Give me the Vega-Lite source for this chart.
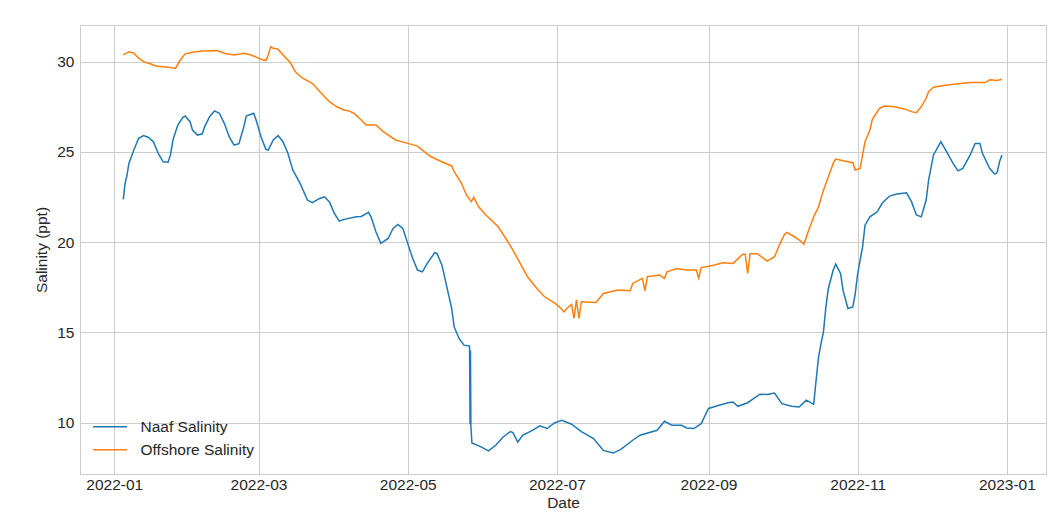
{
  "$schema": "https://vega.github.io/schema/vega-lite/v6.json",
  "width": 966,
  "height": 449,
  "autosize": {"type": "none"},
  "padding": {"left": 80, "top": 25, "right": 9, "bottom": 55},
  "background": "white",
  "config": {
    "view": {"stroke": "#cccccc", "strokeWidth": 1},
    "font": "Liberation Sans",
    "axis": {
      "gridColor": "#cccccc",
      "gridWidth": 1,
      "domain": false,
      "ticks": false,
      "labelColor": "#262626",
      "titleColor": "#262626",
      "labelFontSize": 15.5,
      "titleFontSize": 15.5,
      "titleFontWeight": "normal",
      "labelFont": "Liberation Sans",
      "titleFont": "Liberation Sans"
    },
    "legend": {
      "labelFont": "Liberation Sans",
      "labelFontSize": 15.5,
      "labelColor": "#262626",
      "symbolType": "M-3,0H3",
      "symbolStrokeWidth": 1.5,
      "symbolSize": 128,
      "labelOffset": 22.7,
      "rowPadding": 6,
      "padding": 0
    }
  },
  "datasets": {
    "naaf": [
      {"d": "2022-01-04T17:00:00Z", "v": 22.37},
      {"d": "2022-01-05T10:00:00Z", "v": 23.25},
      {"d": "2022-01-06T02:00:00Z", "v": 23.62},
      {"d": "2022-01-07", "v": 24.36},
      {"d": "2022-01-09", "v": 25.1},
      {"d": "2022-01-11", "v": 25.75},
      {"d": "2022-01-13", "v": 25.9},
      {"d": "2022-01-15", "v": 25.8},
      {"d": "2022-01-17", "v": 25.56},
      {"d": "2022-01-19", "v": 24.92},
      {"d": "2022-01-21", "v": 24.45},
      {"d": "2022-01-23", "v": 24.43},
      {"d": "2022-01-24", "v": 24.83},
      {"d": "2022-01-25", "v": 25.66},
      {"d": "2022-01-27", "v": 26.49},
      {"d": "2022-01-29", "v": 26.9},
      {"d": "2022-01-30", "v": 26.99},
      {"d": "2022-02-01", "v": 26.67},
      {"d": "2022-02-02", "v": 26.21},
      {"d": "2022-02-04", "v": 25.93},
      {"d": "2022-02-06", "v": 26.0},
      {"d": "2022-02-07", "v": 26.4},
      {"d": "2022-02-09", "v": 26.95},
      {"d": "2022-02-11", "v": 27.27},
      {"d": "2022-02-13", "v": 27.14},
      {"d": "2022-02-15", "v": 26.58},
      {"d": "2022-02-17", "v": 25.84},
      {"d": "2022-02-19", "v": 25.38},
      {"d": "2022-02-21", "v": 25.45},
      {"d": "2022-02-23", "v": 26.4},
      {"d": "2022-02-24", "v": 26.99},
      {"d": "2022-02-27", "v": 27.14},
      {"d": "2022-02-28", "v": 26.77},
      {"d": "2022-03-02", "v": 25.84},
      {"d": "2022-03-04", "v": 25.14},
      {"d": "2022-03-05", "v": 25.1},
      {"d": "2022-03-07", "v": 25.66},
      {"d": "2022-03-09", "v": 25.9},
      {"d": "2022-03-11", "v": 25.56},
      {"d": "2022-03-13", "v": 24.92},
      {"d": "2022-03-15", "v": 24.0},
      {"d": "2022-03-18", "v": 23.25},
      {"d": "2022-03-21", "v": 22.33},
      {"d": "2022-03-23", "v": 22.18},
      {"d": "2022-03-26", "v": 22.42},
      {"d": "2022-03-28", "v": 22.51},
      {"d": "2022-03-30", "v": 22.22},
      {"d": "2022-04-01", "v": 21.59},
      {"d": "2022-04-03", "v": 21.16},
      {"d": "2022-04-05", "v": 21.26},
      {"d": "2022-04-10", "v": 21.4},
      {"d": "2022-04-12", "v": 21.42},
      {"d": "2022-04-15", "v": 21.65},
      {"d": "2022-04-16", "v": 21.4},
      {"d": "2022-04-18", "v": 20.57},
      {"d": "2022-04-20", "v": 19.93},
      {"d": "2022-04-23", "v": 20.2},
      {"d": "2022-04-25", "v": 20.76},
      {"d": "2022-04-27", "v": 20.98},
      {"d": "2022-04-29", "v": 20.76},
      {"d": "2022-05-01", "v": 19.93},
      {"d": "2022-05-03", "v": 19.1},
      {"d": "2022-05-05", "v": 18.45},
      {"d": "2022-05-07", "v": 18.35},
      {"d": "2022-05-09", "v": 18.82},
      {"d": "2022-05-12", "v": 19.41},
      {"d": "2022-05-13", "v": 19.37},
      {"d": "2022-05-15", "v": 18.72},
      {"d": "2022-05-17", "v": 17.52},
      {"d": "2022-05-19", "v": 16.32},
      {"d": "2022-05-20", "v": 15.3},
      {"d": "2022-05-22", "v": 14.66},
      {"d": "2022-05-24", "v": 14.29},
      {"d": "2022-05-26T07:00:00Z", "v": 14.24},
      {"d": "2022-05-26T12:00:00Z", "v": 9.9},
      {"d": "2022-05-26T16:00:00Z", "v": 14.0},
      {"d": "2022-05-26T20:00:00Z", "v": 9.8},
      {"d": "2022-05-27T06:00:00Z", "v": 8.87},
      {"d": "2022-05-31", "v": 8.65},
      {"d": "2022-06-03", "v": 8.43},
      {"d": "2022-06-06", "v": 8.74},
      {"d": "2022-06-09", "v": 9.2},
      {"d": "2022-06-12", "v": 9.5},
      {"d": "2022-06-13", "v": 9.44},
      {"d": "2022-06-15", "v": 8.92},
      {"d": "2022-06-17", "v": 9.29},
      {"d": "2022-06-21", "v": 9.57},
      {"d": "2022-06-24", "v": 9.82},
      {"d": "2022-06-27", "v": 9.67},
      {"d": "2022-06-30", "v": 9.98},
      {"d": "2022-07-03", "v": 10.13},
      {"d": "2022-07-07", "v": 9.91},
      {"d": "2022-07-11", "v": 9.5},
      {"d": "2022-07-16", "v": 9.11},
      {"d": "2022-07-20", "v": 8.46},
      {"d": "2022-07-24", "v": 8.31},
      {"d": "2022-07-27", "v": 8.5},
      {"d": "2022-08-01", "v": 9.02},
      {"d": "2022-08-04", "v": 9.3},
      {"d": "2022-08-11", "v": 9.57},
      {"d": "2022-08-14", "v": 10.07},
      {"d": "2022-08-17", "v": 9.85},
      {"d": "2022-08-21", "v": 9.85},
      {"d": "2022-08-23", "v": 9.7},
      {"d": "2022-08-26", "v": 9.67},
      {"d": "2022-08-29", "v": 9.94},
      {"d": "2022-09-01", "v": 10.78},
      {"d": "2022-09-05", "v": 10.95},
      {"d": "2022-09-09", "v": 11.1},
      {"d": "2022-09-11", "v": 11.14},
      {"d": "2022-09-13", "v": 10.9},
      {"d": "2022-09-17", "v": 11.1},
      {"d": "2022-09-22", "v": 11.57},
      {"d": "2022-09-25", "v": 11.55},
      {"d": "2022-09-28", "v": 11.64},
      {"d": "2022-10-01", "v": 11.05},
      {"d": "2022-10-05", "v": 10.9},
      {"d": "2022-10-08", "v": 10.86},
      {"d": "2022-10-11", "v": 11.24},
      {"d": "2022-10-14", "v": 11.01},
      {"d": "2022-10-15", "v": 12.35},
      {"d": "2022-10-16", "v": 13.64},
      {"d": "2022-10-17", "v": 14.38},
      {"d": "2022-10-18", "v": 15.03},
      {"d": "2022-10-19", "v": 16.41},
      {"d": "2022-10-20", "v": 17.43},
      {"d": "2022-10-22", "v": 18.45},
      {"d": "2022-10-23", "v": 18.78},
      {"d": "2022-10-25", "v": 18.26},
      {"d": "2022-10-26", "v": 17.34},
      {"d": "2022-10-28", "v": 16.32},
      {"d": "2022-10-30", "v": 16.41},
      {"d": "2022-10-31", "v": 17.15},
      {"d": "2022-11-01", "v": 18.26},
      {"d": "2022-11-03", "v": 19.74},
      {"d": "2022-11-04", "v": 20.94},
      {"d": "2022-11-06", "v": 21.4},
      {"d": "2022-11-09", "v": 21.68},
      {"d": "2022-11-11", "v": 22.15},
      {"d": "2022-11-14", "v": 22.55},
      {"d": "2022-11-17", "v": 22.66},
      {"d": "2022-11-21", "v": 22.73},
      {"d": "2022-11-23", "v": 22.24},
      {"d": "2022-11-25", "v": 21.5},
      {"d": "2022-11-27", "v": 21.4},
      {"d": "2022-11-29", "v": 22.33},
      {"d": "2022-11-30", "v": 23.44},
      {"d": "2022-12-02", "v": 24.83},
      {"d": "2022-12-04", "v": 25.32},
      {"d": "2022-12-05", "v": 25.56},
      {"d": "2022-12-07", "v": 25.1},
      {"d": "2022-12-10", "v": 24.36},
      {"d": "2022-12-12", "v": 23.95},
      {"d": "2022-12-14", "v": 24.08},
      {"d": "2022-12-17", "v": 24.83},
      {"d": "2022-12-19", "v": 25.47},
      {"d": "2022-12-21", "v": 25.47},
      {"d": "2022-12-22", "v": 24.92},
      {"d": "2022-12-25", "v": 24.08},
      {"d": "2022-12-27", "v": 23.77},
      {"d": "2022-12-28", "v": 23.84},
      {"d": "2022-12-29", "v": 24.45},
      {"d": "2022-12-30", "v": 24.83}
    ],
    "offshore": [
      {"d": "2022-01-04T17:00:00Z", "v": 30.37},
      {"d": "2022-01-07", "v": 30.55},
      {"d": "2022-01-09", "v": 30.47},
      {"d": "2022-01-11", "v": 30.19},
      {"d": "2022-01-13", "v": 30.0},
      {"d": "2022-01-16", "v": 29.87},
      {"d": "2022-01-18", "v": 29.76},
      {"d": "2022-01-21", "v": 29.71},
      {"d": "2022-01-24", "v": 29.67},
      {"d": "2022-01-26", "v": 29.62},
      {"d": "2022-01-28", "v": 30.09},
      {"d": "2022-01-30", "v": 30.43},
      {"d": "2022-02-02", "v": 30.52},
      {"d": "2022-02-06", "v": 30.59},
      {"d": "2022-02-12", "v": 30.61},
      {"d": "2022-02-15", "v": 30.47},
      {"d": "2022-02-19", "v": 30.37},
      {"d": "2022-02-23", "v": 30.47},
      {"d": "2022-02-26", "v": 30.37},
      {"d": "2022-03-02", "v": 30.13},
      {"d": "2022-03-04", "v": 30.06},
      {"d": "2022-03-05", "v": 30.37},
      {"d": "2022-03-06", "v": 30.83},
      {"d": "2022-03-07", "v": 30.74},
      {"d": "2022-03-09", "v": 30.69},
      {"d": "2022-03-11", "v": 30.37},
      {"d": "2022-03-14", "v": 29.95},
      {"d": "2022-03-16", "v": 29.45},
      {"d": "2022-03-19", "v": 29.08},
      {"d": "2022-03-23", "v": 28.8},
      {"d": "2022-03-26", "v": 28.34},
      {"d": "2022-03-30", "v": 27.78},
      {"d": "2022-04-02", "v": 27.5},
      {"d": "2022-04-05", "v": 27.32},
      {"d": "2022-04-07", "v": 27.27},
      {"d": "2022-04-09", "v": 27.14},
      {"d": "2022-04-12", "v": 26.77},
      {"d": "2022-04-14", "v": 26.49},
      {"d": "2022-04-18", "v": 26.49},
      {"d": "2022-04-21", "v": 26.12},
      {"d": "2022-04-26", "v": 25.66},
      {"d": "2022-05-01", "v": 25.47},
      {"d": "2022-05-05", "v": 25.32},
      {"d": "2022-05-10", "v": 24.77},
      {"d": "2022-05-14", "v": 24.51},
      {"d": "2022-05-19", "v": 24.22},
      {"d": "2022-05-20", "v": 23.9},
      {"d": "2022-05-23", "v": 23.26},
      {"d": "2022-05-25", "v": 22.61},
      {"d": "2022-05-27", "v": 22.24},
      {"d": "2022-05-28", "v": 22.48},
      {"d": "2022-05-30", "v": 21.96},
      {"d": "2022-06-02", "v": 21.5},
      {"d": "2022-06-07", "v": 20.85},
      {"d": "2022-06-11", "v": 20.02},
      {"d": "2022-06-13", "v": 19.56},
      {"d": "2022-06-16", "v": 18.82},
      {"d": "2022-06-19", "v": 18.08},
      {"d": "2022-06-23", "v": 17.4},
      {"d": "2022-06-26", "v": 16.97},
      {"d": "2022-06-30", "v": 16.63},
      {"d": "2022-07-02", "v": 16.41},
      {"d": "2022-07-04", "v": 16.13},
      {"d": "2022-07-05", "v": 16.32},
      {"d": "2022-07-07", "v": 16.55},
      {"d": "2022-07-08", "v": 15.77},
      {"d": "2022-07-09", "v": 16.8},
      {"d": "2022-07-10", "v": 15.77},
      {"d": "2022-07-11", "v": 16.69},
      {"d": "2022-07-17", "v": 16.65},
      {"d": "2022-07-20", "v": 17.15},
      {"d": "2022-07-26", "v": 17.34},
      {"d": "2022-07-31", "v": 17.3},
      {"d": "2022-08-01", "v": 17.71},
      {"d": "2022-08-05", "v": 17.99},
      {"d": "2022-08-06", "v": 17.3},
      {"d": "2022-08-07", "v": 18.08},
      {"d": "2022-08-12", "v": 18.17},
      {"d": "2022-08-14", "v": 17.99},
      {"d": "2022-08-15", "v": 18.35},
      {"d": "2022-08-19", "v": 18.54},
      {"d": "2022-08-23", "v": 18.45},
      {"d": "2022-08-27", "v": 18.45},
      {"d": "2022-08-28", "v": 17.99},
      {"d": "2022-08-29", "v": 18.59},
      {"d": "2022-09-03", "v": 18.72},
      {"d": "2022-09-07", "v": 18.85},
      {"d": "2022-09-11", "v": 18.82},
      {"d": "2022-09-15", "v": 19.33},
      {"d": "2022-09-16", "v": 19.33},
      {"d": "2022-09-17", "v": 18.26},
      {"d": "2022-09-18", "v": 19.35},
      {"d": "2022-09-21", "v": 19.35},
      {"d": "2022-09-25", "v": 18.95},
      {"d": "2022-09-28", "v": 19.19},
      {"d": "2022-09-30", "v": 19.85},
      {"d": "2022-10-02", "v": 20.41},
      {"d": "2022-10-03", "v": 20.54},
      {"d": "2022-10-06", "v": 20.31},
      {"d": "2022-10-08", "v": 20.13},
      {"d": "2022-10-10", "v": 19.89},
      {"d": "2022-10-12", "v": 20.67},
      {"d": "2022-10-14", "v": 21.4},
      {"d": "2022-10-16", "v": 21.96},
      {"d": "2022-10-18", "v": 22.88},
      {"d": "2022-10-20", "v": 23.62},
      {"d": "2022-10-22", "v": 24.36},
      {"d": "2022-10-23", "v": 24.6},
      {"d": "2022-10-26", "v": 24.51},
      {"d": "2022-10-30", "v": 24.4},
      {"d": "2022-10-31", "v": 23.99},
      {"d": "2022-11-02", "v": 24.08},
      {"d": "2022-11-03", "v": 24.83},
      {"d": "2022-11-04", "v": 25.56},
      {"d": "2022-11-06", "v": 26.21},
      {"d": "2022-11-07", "v": 26.8},
      {"d": "2022-11-10", "v": 27.42},
      {"d": "2022-11-12", "v": 27.54},
      {"d": "2022-11-16", "v": 27.5},
      {"d": "2022-11-20", "v": 27.38},
      {"d": "2022-11-23", "v": 27.23},
      {"d": "2022-11-25", "v": 27.17},
      {"d": "2022-11-27", "v": 27.5},
      {"d": "2022-11-29", "v": 27.97},
      {"d": "2022-11-30", "v": 28.34},
      {"d": "2022-12-02", "v": 28.58},
      {"d": "2022-12-05", "v": 28.65},
      {"d": "2022-12-10", "v": 28.75},
      {"d": "2022-12-17", "v": 28.84},
      {"d": "2022-12-23", "v": 28.84},
      {"d": "2022-12-25", "v": 28.99},
      {"d": "2022-12-28", "v": 28.95},
      {"d": "2022-12-30", "v": 29.02}
    ]
  },
  "layer": [
    {
      "data": {"name": "naaf"},
      "mark": {"type": "line", "strokeWidth": 1.5},
      "encoding": {
        "x": {
          "field": "d",
          "type": "temporal",
          "scale": {
            "domain": [
              {"year": 2021, "month": 12, "date": 18, "utc": true},
              {"year": 2023, "month": 1, "date": 17, "utc": true}
            ],
            "nice": false
          },
          "axis": {
            "title": "Date",
            "values": [
              {"year": 2022, "month": 1, "date": 1, "utc": true},
              {"year": 2022, "month": 3, "date": 1, "utc": true},
              {"year": 2022, "month": 5, "date": 1, "utc": true},
              {"year": 2022, "month": 7, "date": 1, "utc": true},
              {"year": 2022, "month": 9, "date": 1, "utc": true},
              {"year": 2022, "month": 11, "date": 1, "utc": true},
              {"year": 2023, "month": 1, "date": 1, "utc": true}
            ],
            "labelExpr": "utcFormat(datum.value, '%Y-%m')",
            "labelPadding": 3,
            "titlePadding": 3
          }
        },
        "y": {
          "field": "v",
          "type": "quantitative",
          "scale": {"domain": [7.15, 32.03], "nice": false, "zero": false},
          "axis": {
            "title": "Salinity (ppt)",
            "values": [10, 15, 20, 25, 30],
            "labelPadding": 6,
            "titlePadding": 7
          }
        },
        "color": {
          "datum": "Naaf Salinity",
          "type": "nominal",
          "scale": {
            "domain": ["Naaf Salinity", "Offshore Salinity"],
            "range": ["#1f77b4", "#ff7f0e"]
          },
          "legend": {
            "title": null,
            "orient": "none",
            "legendX": 22.3,
            "legendY": 394
          }
        }
      }
    },
    {
      "data": {"name": "offshore"},
      "mark": {"type": "line", "strokeWidth": 1.5},
      "encoding": {
        "x": {"field": "d", "type": "temporal"},
        "y": {"field": "v", "type": "quantitative"},
        "color": {"datum": "Offshore Salinity", "type": "nominal"}
      }
    }
  ]
}
